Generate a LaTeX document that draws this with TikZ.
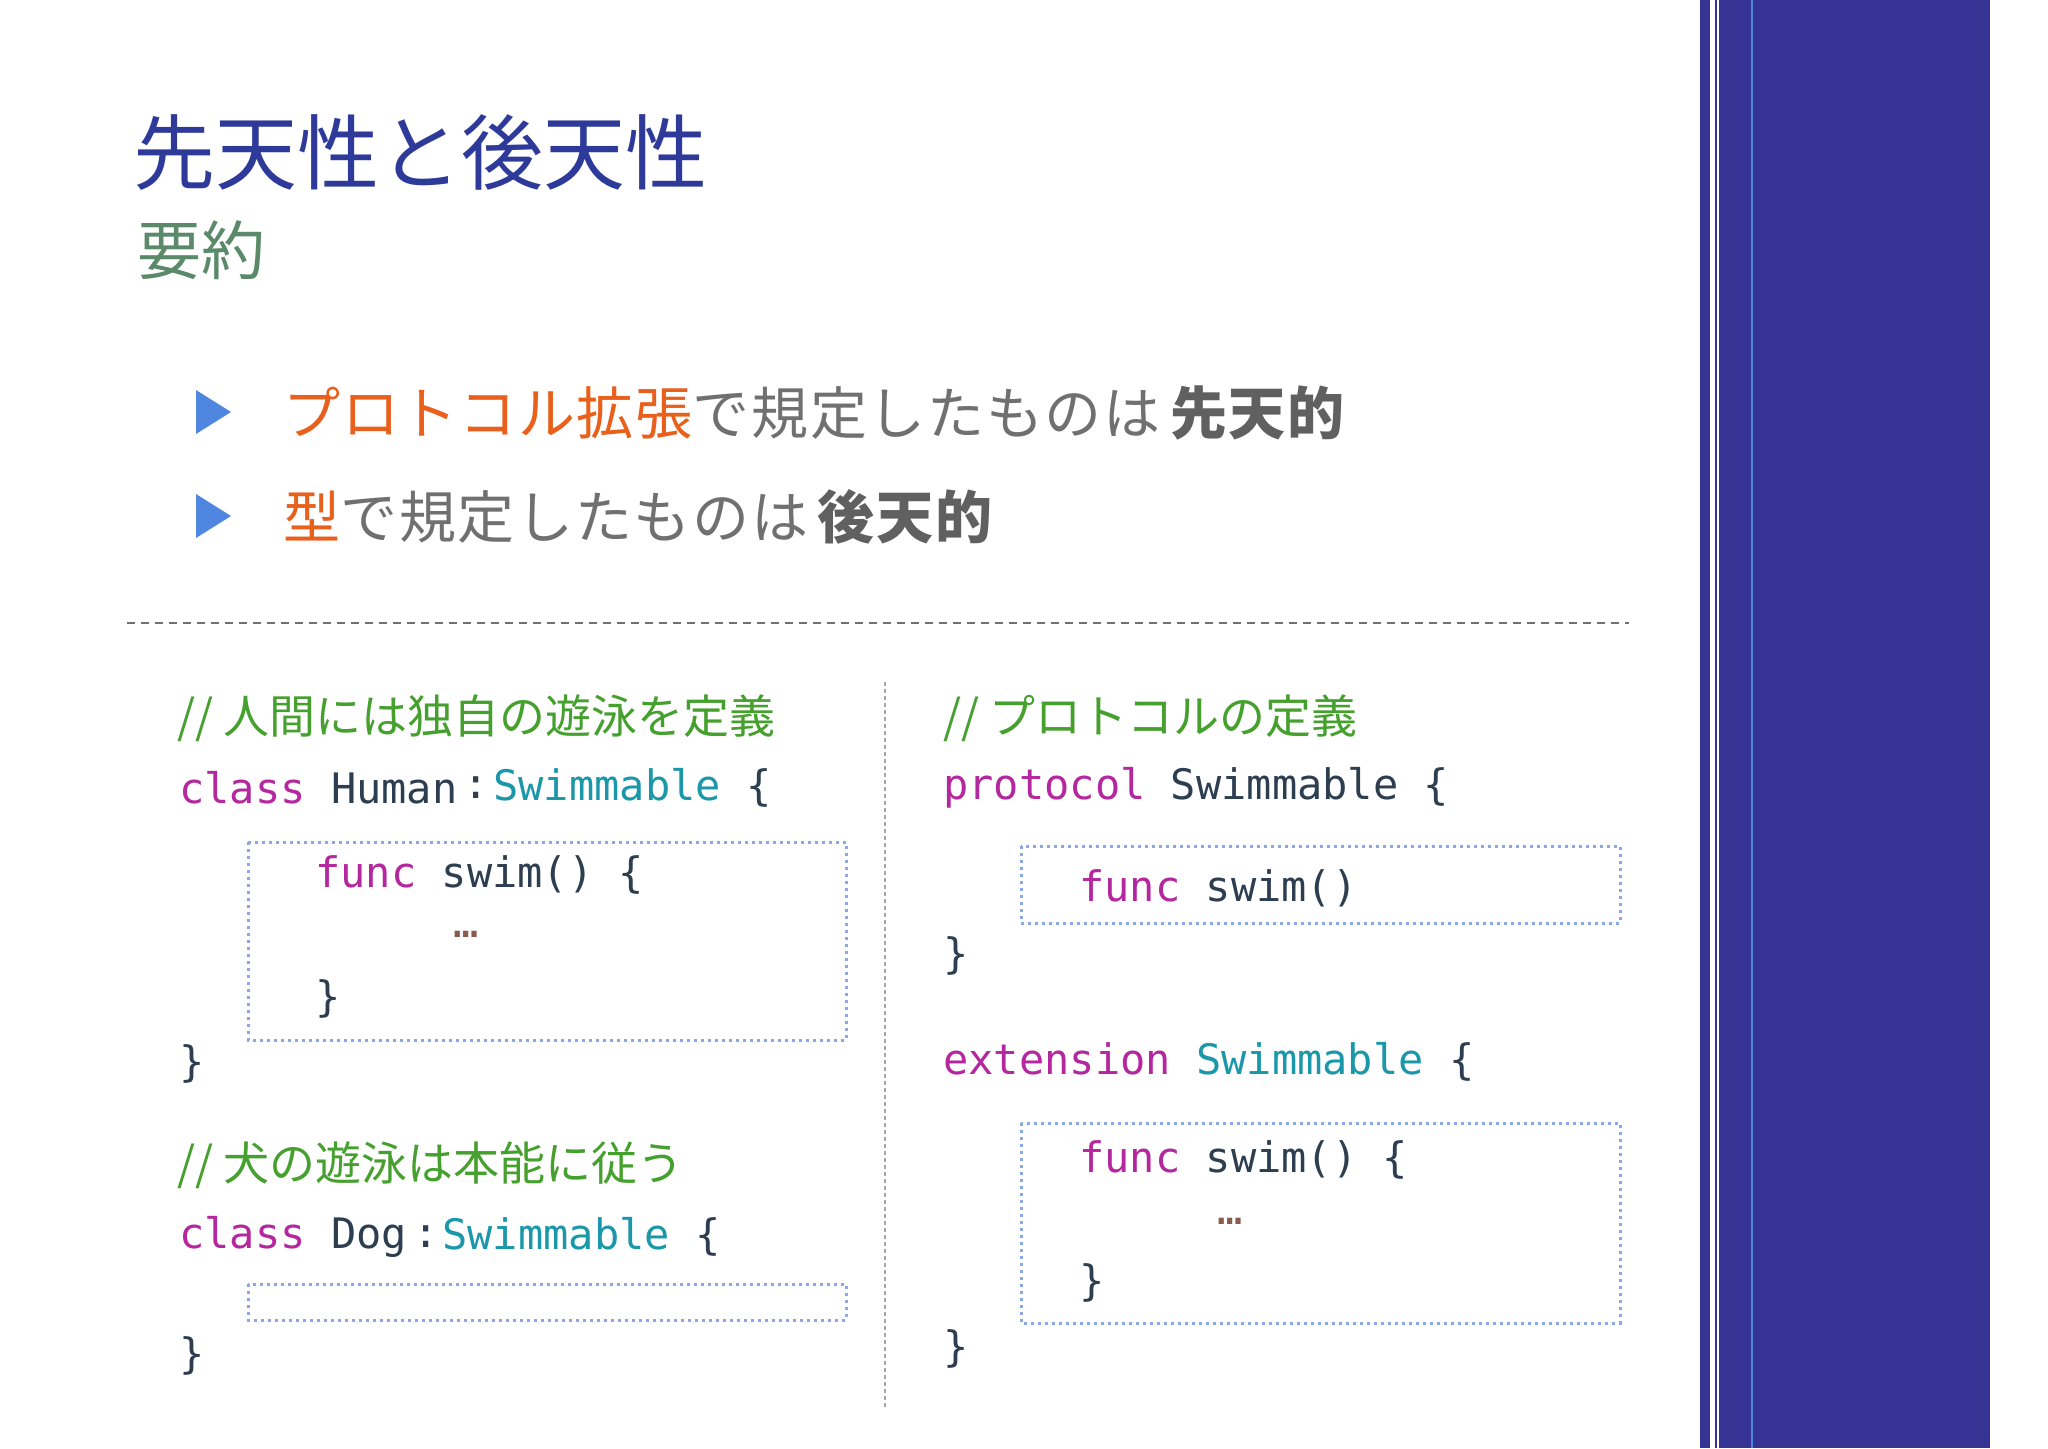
\documentclass[tikz,border=0pt]{standalone}
\usepackage{fontspec}
\setmonofont{DejaVu Sans Mono}
\newfontfamily\cjk{Noto Sans CJK JP}
\newfontfamily\cjksp[LetterSpace=3]{Noto Sans CJK JP}
\usetikzlibrary{calc}
\definecolor{barblue}{HTML}{353393}
\definecolor{titleblue}{HTML}{2E3A9A}
\definecolor{subgreen}{HTML}{5A8A6A}
\definecolor{bulblue}{HTML}{4F86DF}
\definecolor{orng}{HTML}{E8601C}
\definecolor{gtxt}{HTML}{707070}
\definecolor{dtxt}{HTML}{606060}
\definecolor{cmt}{HTML}{45A02E}
\definecolor{kw}{HTML}{B5279F}
\definecolor{ty}{HTML}{2C3E50}
\definecolor{teal}{HTML}{1A98AA}
\definecolor{dots}{HTML}{8B5A4A}
\definecolor{boxc}{HTML}{8AA8E8}
\begin{document}
\begin{tikzpicture}[x=0.5pt,y=-0.5pt,
  code/.style={anchor=west,inner sep=0,font=\fontsize{21}{24}\selectfont\ttfamily,text=ty},
  cmtx/.style={anchor=west,inner sep=0,font=\fontsize{23}{26}\cjk,text=cmt},
  dbox/.style={draw=boxc,line width=1.5pt,dotted},
  bul/.style={anchor=west,inner sep=0,font=\fontsize{28.5}{30}\cjksp,text=gtxt}]
\useasboundingbox (0,0) rectangle (2048,1448);
\fill[white] (0,0) rectangle (2048,1448);
% right bar
\fill[barblue] (1700,0) rectangle (1990,1448);
\fill[white] (1710,0) rectangle (1715,1448);
\fill[white] (1717,0) rectangle (1718.5,1448);
\draw[line width=1pt,color=bulblue] (1752,0) -- (1752,1448);
% title
\node[anchor=west,inner sep=0,font=\fontsize{41}{46}\cjk,text=titleblue] (title) at (133,153) {先天性と後天性};
\node[anchor=west,inner sep=0,font=\fontsize{32}{36}\cjk,text=subgreen] (sub) at (137,250) {要約};
% bullets
\fill[bulblue] (196,390) -- (231,412) -- (196,434) -- cycle;
\fill[bulblue] (196,494) -- (231,516) -- (196,538) -- cycle;
\node[bul] (b1) at (283,413) {\textcolor{orng}{プロトコル拡張}で規定したものは\,{\bfseries\textcolor{dtxt}{先天的}}};
\node[bul] (b2) at (283,517) {\textcolor{orng}{型}で規定したものは\,{\bfseries\textcolor{dtxt}{後天的}}};
% separators
\coordinate (s1) at (127,623); \coordinate (s2) at (1629,623);
\draw[gtxt,line width=1.2pt,dash pattern=on 4pt off 3pt] (s1) -- (s2);
\coordinate (v1) at (885,682); \coordinate (v2) at (885,1410);
\draw[gray!70,line width=0.6pt,dash pattern=on 2pt off 1.5pt] (v1) -- (v2);
% left code
\node[cmtx] (c1) at (177,718) {// 人間には独自の遊泳を定義};
\node[code] (l1) at (179,788) {\textcolor{kw}{class} Human};
\node[code] (l1c) at (463,788) {:};
\node[code] (l1s) at (493,788) {\textcolor{teal}{Swimmable} \{};
\draw[dbox] (248,842) rectangle (846,1040);
\node[code] (l2) at (315,875) {\textcolor{kw}{func} swim() \{};
\node[code] (l3) at (453,934) {\textcolor{dots}{…}};
\node[code] (l4) at (315,999) {\}};
\node[code] (l5) at (179,1064) {\}};
\node[cmtx] (c2) at (177,1165) {// 犬の遊泳は本能に従う};
\node[code] (l6) at (179,1237) {\textcolor{kw}{class} Dog};
\node[code] (l6c) at (413,1237) {:};
\node[code] (l6s) at (442,1237) {\textcolor{teal}{Swimmable} \{};
\draw[dbox] (248,1284) rectangle (846,1320);
\node[code] (l7) at (179,1356) {\}};
% right code
\node[cmtx] (c3) at (943,718) {// プロトコルの定義};
\node[code] (r1) at (943,788) {\textcolor{kw}{protocol} Swimmable \{};
\draw[dbox] (1021,846) rectangle (1620,923);
\node[code] (r2) at (1079,888) {\textcolor{kw}{func} swim()};
\node[code] (r3) at (943,956) {\}};
\node[code] (r4) at (943,1062) {\textcolor{kw}{extension} \textcolor{teal}{Swimmable} \{};
\draw[dbox] (1021,1123) rectangle (1620,1323);
\node[code] (r5) at (1079,1160) {\textcolor{kw}{func} swim() \{};
\node[code] (r6) at (1217,1221) {\textcolor{dots}{…}};
\node[code] (r7) at (1079,1283) {\}};
\node[code] (r8) at (943,1349) {\}};
\end{tikzpicture}
\end{document}
